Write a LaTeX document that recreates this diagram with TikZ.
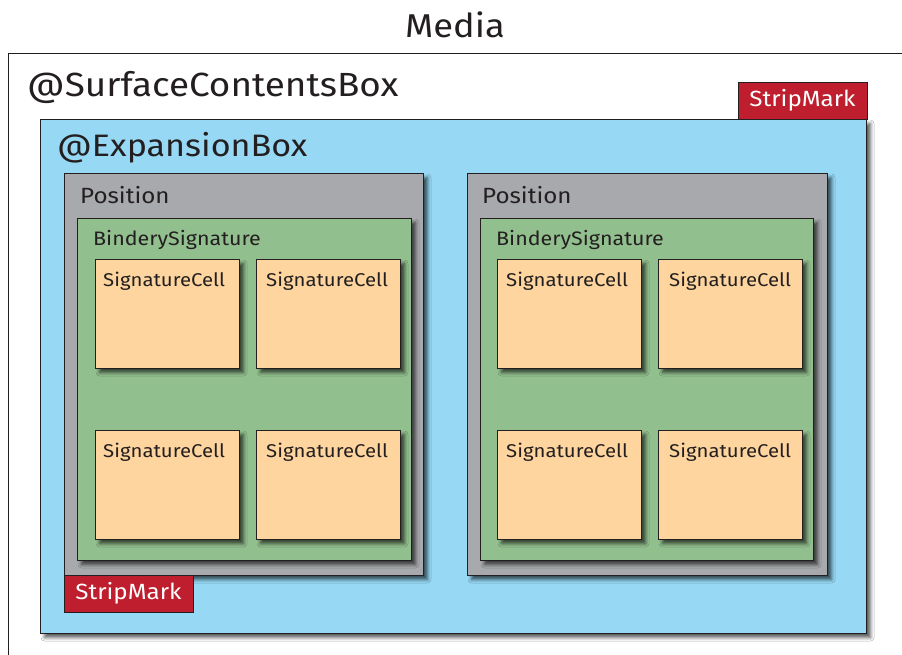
\documentclass[tikz,border=0pt]{standalone}
\usepackage{fontspec}
\setmainfont{Fira Sans}[FakeStretch=1.1]
\usetikzlibrary{shadows.blur}
\definecolor{ink}{HTML}{231F20}
\definecolor{expblue}{HTML}{97D9F5}
\definecolor{posgray}{HTML}{A7A9AC}
\definecolor{bsgreen}{HTML}{92BF8E}
\definecolor{cellorange}{HTML}{FED59E}
\definecolor{stripred}{HTML}{BE1E2D}
\tikzset{
  boxbase/.style={draw=ink, line width=0.9pt, anchor=north west, inner sep=0pt, outer sep=0pt},
  shadowed/.style={blur shadow={shadow xshift=4.5pt, shadow yshift=-4.5pt, shadow blur radius=3.5pt, shadow opacity=65}},
  lbl/.style={text=ink, inner sep=0pt, anchor=base west},
  scbfont/.style={font=\fontsize{33.5}{38}\selectfont},
  expfont/.style={font=\fontsize{31}{36}\selectfont},
  posfont/.style={font=\fontsize{22}{26}\selectfont},
  bsfont/.style={font=\fontsize{19.5}{22}\selectfont},
  cellfont/.style={font=\fontsize{18.5}{22}\selectfont},
  stripbox/.style={boxbase, fill=stripred, text=white, font=\fontsize{22}{26}\selectfont, minimum width=129pt, minimum height=37pt},
  expbox/.style={boxbase, shadowed, fill=expblue},
  posbox/.style={boxbase, shadowed, fill=posgray, minimum height=402pt},
  bsbox/.style={boxbase, shadowed, fill=bsgreen, minimum height=342pt},
  cellbox/.style={boxbase, shadowed, fill=cellorange, minimum width=144pt, minimum height=109pt},
}
\begin{document}
\begin{tikzpicture}[x=1pt,y=-1pt]
\useasboundingbox (0,0) rectangle (902,655);
\fill[white] (0,0) rectangle (902,655);
% Media frame
\coordinate (mediaBL) at (8,655);
\coordinate (mediaTL) at (8,53);
\coordinate (mediaTR) at (902,53);
\draw[ink, line width=0.9pt] (mediaBL) -- (mediaTL) -- (mediaTR);
\node[text=ink, inner sep=0pt, anchor=base, font=\fontsize{33}{38}\selectfont] (media) at (455,38) {Media};
\node[lbl, scbfont] (scb) at (27,97) {@SurfaceContentsBox};
% Expansion box
\node[expbox, minimum width=826pt, minimum height=514pt] (exp) at (40,119) {};
\node[stripbox, anchor=north west] (stripTop) at (738,82) {StripMark};
\node[lbl, expfont] (expText) at (57,157) {@ExpansionBox};
% Left position
\node[posbox, minimum width=359pt] (posL) at (64,173) {};
\node[lbl, posfont] (posLText) at (80,204) {Position};
\node[bsbox, minimum width=334pt] (bsL) at (77,218) {};
\node[lbl, bsfont] (bsLText) at (93,245) {BinderySignature};
\node[cellbox] (c1) at (95,259) {};
\node[cellbox] (c2) at (256,259) {};
\node[cellbox] (c3) at (95,430) {};
\node[cellbox] (c4) at (256,430) {};
\node[lbl, cellfont] (c1t) at (103,286) {SignatureCell};
\node[lbl, cellfont] (c2t) at (266,286) {SignatureCell};
\node[lbl, cellfont] (c3t) at (103,457) {SignatureCell};
\node[lbl, cellfont] (c4t) at (266,457) {SignatureCell};
% Right position
\node[posbox, minimum width=360pt] (posR) at (467,173) {};
\node[lbl, posfont] (posRText) at (482,204) {Position};
\node[bsbox, minimum width=333pt] (bsR) at (480,218) {};
\node[lbl, bsfont] (bsRText) at (496,245) {BinderySignature};
\node[cellbox] (c5) at (497,259) {};
\node[cellbox] (c6) at (658,259) {};
\node[cellbox] (c7) at (497,430) {};
\node[cellbox] (c8) at (658,430) {};
\node[lbl, cellfont] (c5t) at (506,286) {SignatureCell};
\node[lbl, cellfont] (c6t) at (669,286) {SignatureCell};
\node[lbl, cellfont] (c7t) at (506,457) {SignatureCell};
\node[lbl, cellfont] (c8t) at (669,457) {SignatureCell};
% Bottom strip mark
\node[stripbox] (stripBot) at (64,575) {StripMark};
\end{tikzpicture}
\end{document}
